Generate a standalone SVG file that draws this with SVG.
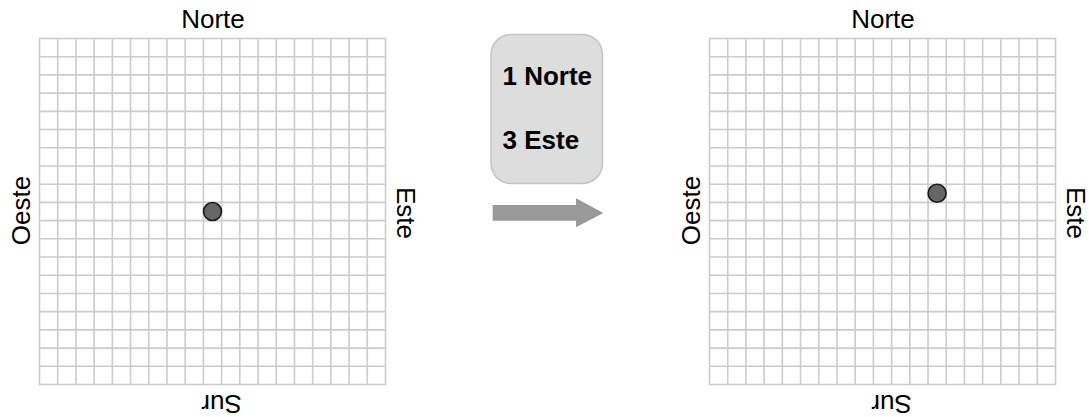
<svg xmlns="http://www.w3.org/2000/svg" xmlns:xlink="http://www.w3.org/1999/xlink" width="1089" height="417" viewBox="0 0 1089 417">
<style>
.lbl{font-family:"Liberation Sans",Arial,sans-serif;font-size:26px;fill:#000;text-anchor:middle}
.bold{font-family:"Liberation Sans",Arial,sans-serif;font-size:26px;font-weight:bold;fill:#000}
.gl{fill:none;stroke:#cccccc;stroke-width:1.6}
.dot{fill:#666666;stroke:#1a1a1a;stroke-width:1.6}
</style>
<defs>
<g id="grid">
<rect x="0" y="0" width="346" height="346" fill="#ffffff" class="gl"/>
<path class="gl" d="M18.21 0V346M36.42 0V346M54.63 0V346M72.84 0V346M91.05 0V346M109.26 0V346M127.47 0V346M145.68 0V346M163.89 0V346M182.11 0V346M200.32 0V346M218.53 0V346M236.74 0V346M254.95 0V346M273.16 0V346M291.37 0V346M309.58 0V346M327.79 0V346M0 18.21H346M0 36.42H346M0 54.63H346M0 72.84H346M0 91.05H346M0 109.26H346M0 127.47H346M0 145.68H346M0 163.89H346M0 182.11H346M0 200.32H346M0 218.53H346M0 236.74H346M0 254.95H346M0 273.16H346M0 291.37H346M0 309.58H346M0 327.79H346"/>
</g>
</defs>
<rect width="1089" height="417" fill="#ffffff"/>
<g id="map-before">
<use xlink:href="#grid" href="#grid" transform="translate(39.5,38.5)"/>
<text class="lbl" x="213" y="27.5">Norte</text>
<text class="lbl" transform="translate(221.5,395) rotate(180)">Sur</text>
<text class="lbl" transform="translate(29.5,210.5) rotate(-90)">Oeste</text>
<text class="lbl" transform="translate(396.5,213) rotate(90)">Este</text>
<circle class="dot" cx="212.5" cy="211.5" r="9"/>
</g>
<g id="instructions">
<rect x="491" y="34.5" width="111.5" height="149" rx="20" ry="20" fill="#dddddd" stroke="#c4c4c4" stroke-width="1.5"/>
<text class="bold" x="502.5" y="84.5">1 Norte</text>
<text class="bold" x="502.5" y="149">3 Este</text>
</g>
<g id="connectors">
<polygon points="492.7,205 576,205 576,198.3 603.3,213 576,227.3 576,220.7 492.7,220.7" fill="#999999"/>
</g>
<g id="map-after">
<use xlink:href="#grid" href="#grid" transform="translate(709.5,38.5)"/>
<text class="lbl" x="883" y="27.5">Norte</text>
<text class="lbl" transform="translate(891.5,395) rotate(180)">Sur</text>
<text class="lbl" transform="translate(699.5,210.5) rotate(-90)">Oeste</text>
<text class="lbl" transform="translate(1066.5,213) rotate(90)">Este</text>
<circle class="dot" cx="937.1" cy="193.3" r="9"/>
</g>
</svg>
